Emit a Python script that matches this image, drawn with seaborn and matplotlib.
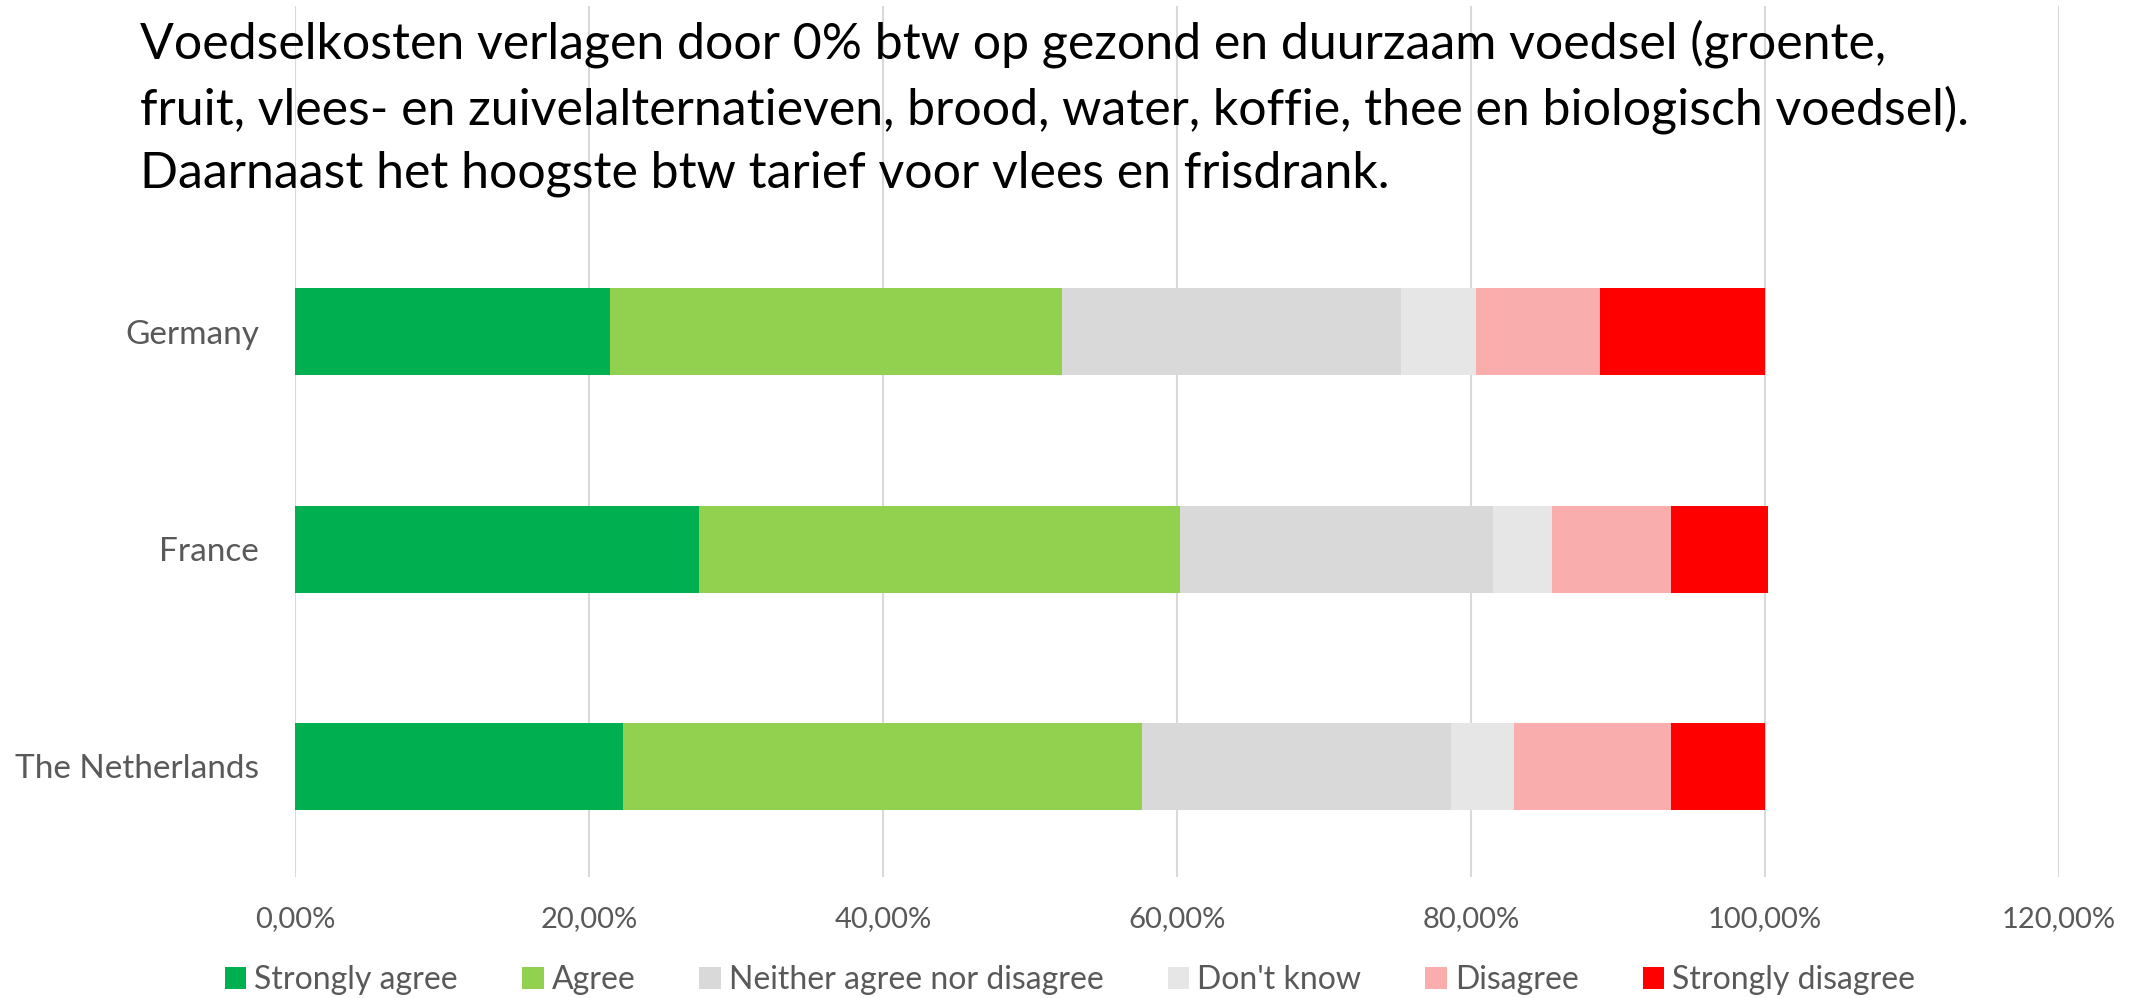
import numpy as np
import pandas as pd
import seaborn as sns
from matplotlib import pyplot as plt
from matplotlib.patches import Patch
from matplotlib.ticker import FuncFormatter, MultipleLocator

sns.set_style('white')
plt.rcParams['font.family'] = ['Lato', 'DejaVu Sans']

countries = ['Germany', 'France', 'The Netherlands']
answers = ['Strongly agree', 'Agree', 'Neither agree nor disagree',
           "Don't know", 'Disagree', 'Strongly disagree']
colors = ['#00B050', '#92D050', '#D9D9D9', '#E7E6E6', '#F9ADAD', '#FF0000']

# shares per answer, in the order of the countries above
strongly_agree = [0.214, 0.275, 0.223]
agree = [0.308, 0.327, 0.353]
neither = [0.230, 0.213, 0.210]
dont_know = [0.051, 0.040, 0.043]
disagree = [0.085, 0.081, 0.107]
strongly_disagree = [0.112, 0.066, 0.064]

df = pd.DataFrame({'Strongly agree': strongly_agree, 'Agree': agree,
                   'Neither agree nor disagree': neither, "Don't know": dont_know,
                   'Disagree': disagree, 'Strongly disagree': strongly_disagree},
                  index=countries)
cum = df.cumsum(axis=1)

fig = plt.figure(figsize=(21.4, 9.98), dpi=100)
ax = fig.add_axes([0.1379, 0.1212, 0.8243, 0.8727])

# draw cumulative bars from the right, so each shorter one covers the longer one
for ans, col in reversed(list(zip(answers, colors))):
    sns.barplot(x=cum[ans].values, y=countries, orient='h', color=col,
                saturation=1, width=0.4, linewidth=0, ax=ax)

ax.set_xlim(0, 1.2)
ax.set_ylim(2.51, -1.50)
ax.xaxis.set_major_locator(MultipleLocator(0.2))
ax.xaxis.set_major_formatter(FuncFormatter(lambda v, p: f'{v*100:.2f}%'.replace('.', ',')))
ax.grid(axis='x', color='#D9D9D9', linewidth=1.5)
ax.set_axisbelow(True)
for s in ax.spines.values():
    s.set_visible(False)
ax.tick_params(axis='both', length=0, colors='#595959')
ax.tick_params(axis='x', labelsize=21, pad=21)
ax.tick_params(axis='y', labelsize=24, pad=26)
ax.set_xlabel('')
ax.set_ylabel('')

fig.text(0.0654, 0.981,
         'Voedselkosten verlagen door 0% btw op gezond en duurzaam voedsel (groente,\n'
         'fruit, vlees- en zuivelalternatieven, brood, water, koffie, thee en biologisch voedsel).\n'
         'Daarnaast het hoogste btw tarief voor vlees en frisdrank.',
         fontsize=36, color='black', va='top', ha='left', linespacing=1.45)

handles = [Patch(facecolor=c, edgecolor='none') for c in colors]
fig.legend(handles, answers, loc='center', bbox_to_anchor=(0.5, 0.018), ncol=6,
           frameon=False, fontsize=23, labelcolor='#595959',
           handlelength=0.68, handleheight=0.68, handletextpad=0.25, columnspacing=2.0)

fig.savefig('out.png', dpi=100)
